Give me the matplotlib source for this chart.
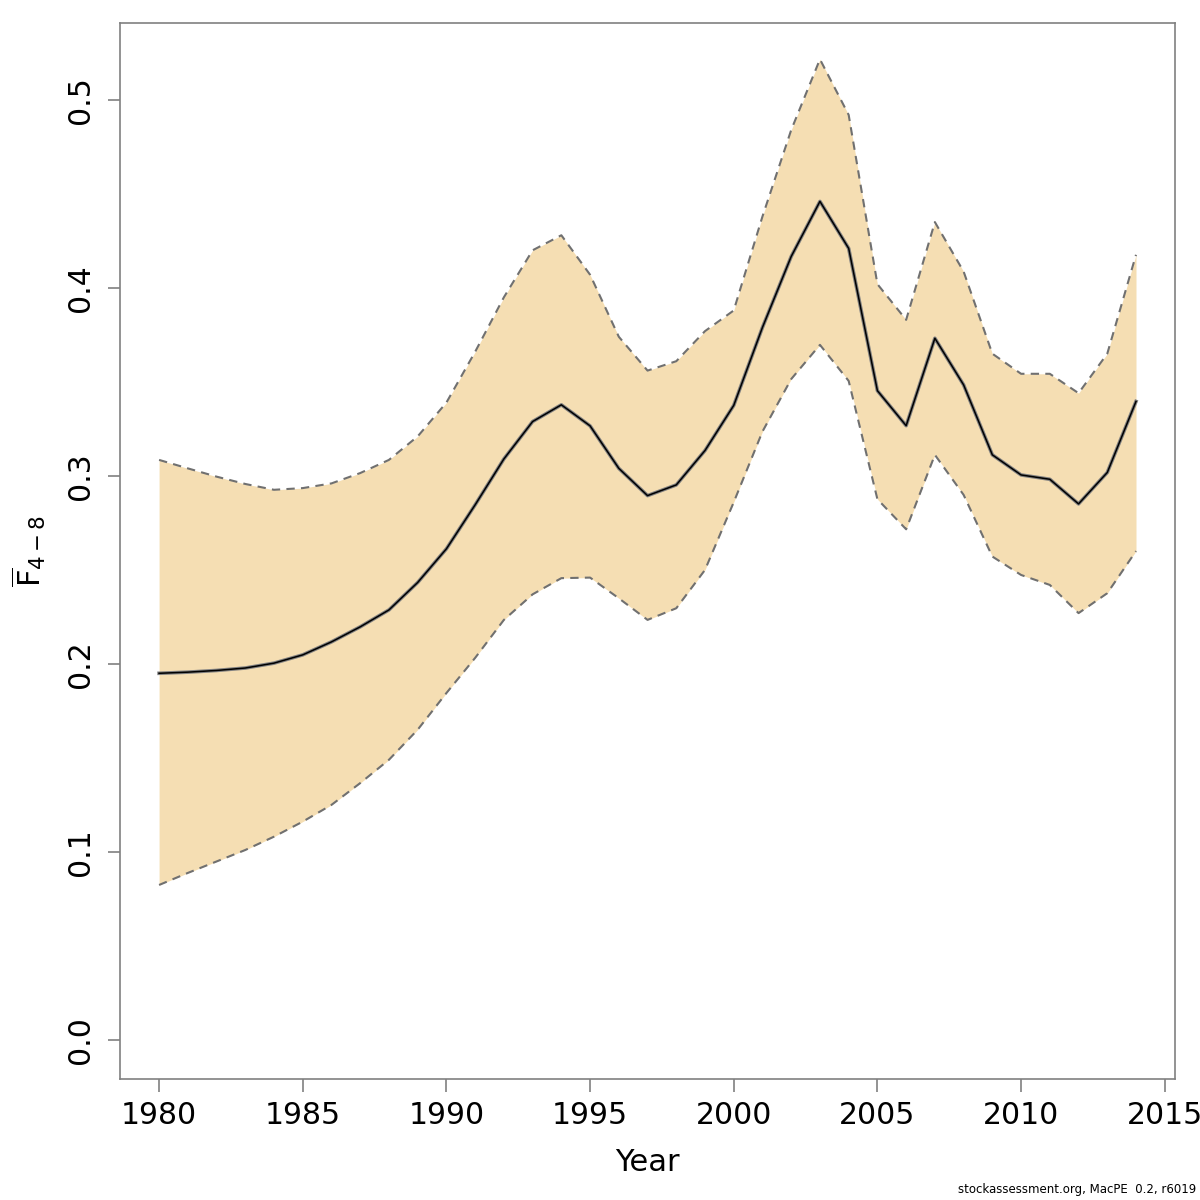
import numpy as np
import matplotlib
matplotlib.use("Agg")
import matplotlib.pyplot as plt

# Fbar (ages 4-8) with confidence bounds
years = list(range(1980, 2015))
fbar = [0.195, 0.1956, 0.1965, 0.1978, 0.2004, 0.2048, 0.2117, 0.2197, 0.2287, 0.2433,
        0.2612, 0.2846, 0.309, 0.3289, 0.3378, 0.3266, 0.304, 0.2895, 0.2952, 0.3135,
        0.3375, 0.379, 0.4167, 0.446, 0.421, 0.3453, 0.3267, 0.3732, 0.3484, 0.3112,
        0.3005, 0.2982, 0.2851, 0.3018, 0.3396]
upper = [0.3085, 0.304, 0.2996, 0.2957, 0.2926, 0.2935, 0.296, 0.3015, 0.3085, 0.321,
         0.339, 0.366, 0.395, 0.42, 0.428, 0.407, 0.374, 0.356, 0.361, 0.377,
         0.388, 0.438, 0.484, 0.5216, 0.492, 0.402, 0.383, 0.435, 0.4087, 0.365,
         0.3543, 0.3543, 0.344, 0.365, 0.4176]
lower = [0.0824, 0.0888, 0.0949, 0.101, 0.1081, 0.1161, 0.125, 0.1366, 0.149, 0.165,
         0.1845, 0.2032, 0.2234, 0.237, 0.2456, 0.2459, 0.2349, 0.2234, 0.2296, 0.25,
         0.286, 0.3236, 0.3515, 0.3697, 0.3505, 0.2876, 0.2716, 0.3112, 0.2899, 0.2571,
         0.2473, 0.242, 0.227, 0.2376, 0.26]

fig = plt.figure(figsize=(12, 12), dpi=100)
ax = fig.add_axes([0.1, 0.101, 0.879, 0.880])

# band and bounds
ax.fill_between(years, lower, upper, color="#F5DEB3", linewidth=0)
ax.plot(years, upper, color="#707070", linestyle=(0, (4, 3)), linewidth=1.5)
ax.plot(years, lower, color="#707070", linestyle=(0, (4, 3)), linewidth=1.5)

# estimate (grey under black, like the original)
ax.plot(years, fbar, color="#808080", linewidth=2.6)
ax.plot(years, fbar, color="black", linewidth=1.1)

ax.set_xlim(1978.64, 2015.35)
ax.set_ylim(-0.0207, 0.541)

ax.set_xticks([1980, 1985, 1990, 1995, 2000, 2005, 2010, 2015])
ax.set_yticks([0.0, 0.1, 0.2, 0.3, 0.4, 0.5])
ax.set_yticklabels(["0.0", "0.1", "0.2", "0.3", "0.4", "0.5"], rotation=90, va="center")

for s in ax.spines.values():
    s.set_color("#808080")
    s.set_linewidth(1.2)
ax.tick_params(axis="both", colors="#808080", labelcolor="black", labelsize=21.5,
               length=9, width=1.2)
ax.tick_params(axis="x", pad=7)
ax.tick_params(axis="y", pad=9)

ax.set_xlabel("Year", fontsize=22)
ax.xaxis.set_label_coords(0.5, -0.066)
ax.set_ylabel(r"$\overline{\mathrm{F}}_{4-8}$", fontsize=22, va="center")
ax.yaxis.set_label_coords(-0.087, 0.5)

fig.text(0.997, 0.003, "stockassessment.org, MacPE  0.2, r6019", ha="right", va="bottom",
         fontsize=8.5)

fig.savefig("out.png", dpi=100)
